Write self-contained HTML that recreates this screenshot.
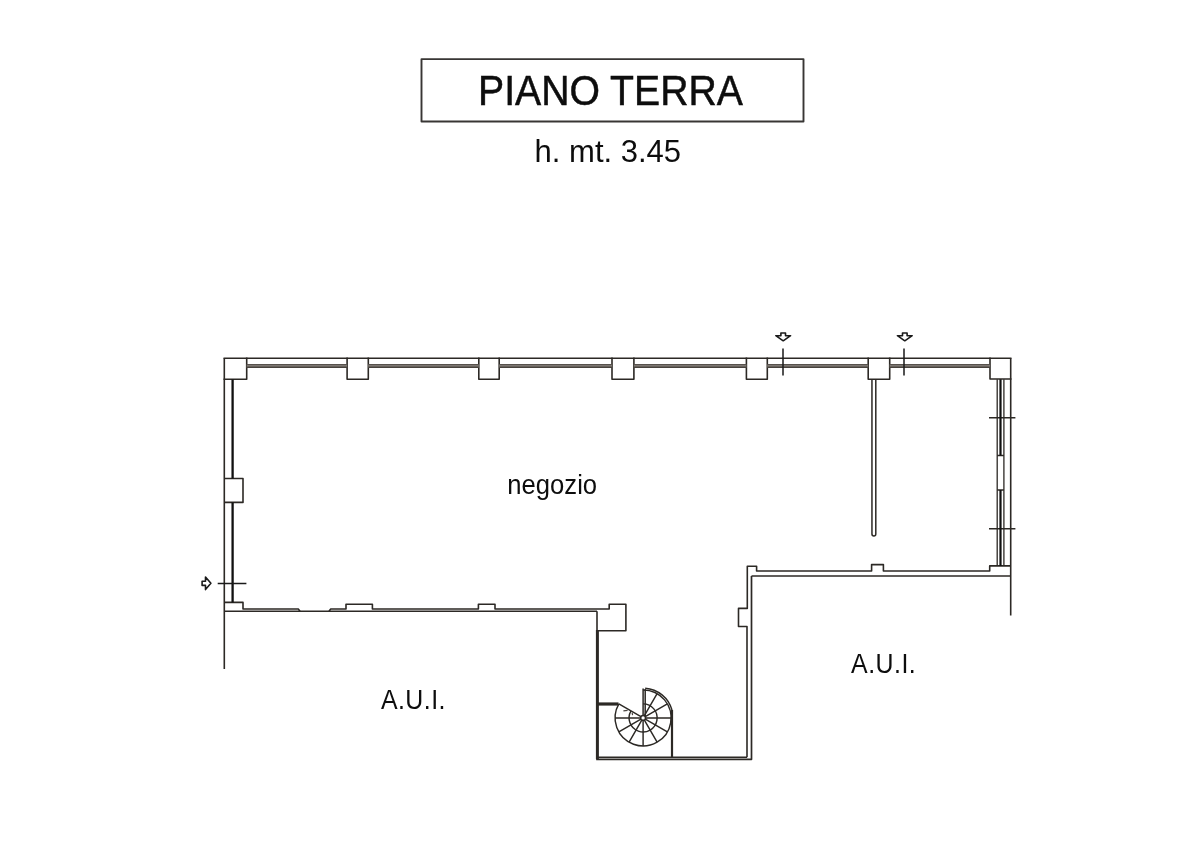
<!DOCTYPE html>
<html><head><meta charset="utf-8"><title>Piano Terra</title>
<style>
html,body{margin:0;padding:0;background:#fff;width:1200px;height:848px;overflow:hidden}
svg{display:block;will-change:transform}
text{font-family:"Liberation Sans",sans-serif;fill:#0d0d0d}
</style></head><body>
<svg width="1200" height="848" viewBox="0 0 1200 848">
<rect x="0" y="0" width="1200" height="848" fill="#fff"/>
<!-- title -->
<rect x="421.5" y="59.1" width="382" height="62.45" fill="none" stroke="#383634" stroke-width="1.9" stroke-linejoin="round"/>
<text transform="translate(478,105.1) scale(0.942,1)" x="0" y="0" font-size="41.6" stroke="#0d0d0d" stroke-width="0.5">PIANO TERRA</text>
<text x="534.6" y="162.4" font-size="31">h. mt. 3.45</text>

<g fill="none" stroke="#2c2925" stroke-width="1.6" stroke-linecap="square" stroke-linejoin="round">
<!-- top wall outer -->
<path d="M224.3 358.2H1010.7"/>
<!-- top pillars -->
<path d="M246.7 358.2V379.2H224.3"/>
<path d="M347.1 358.2V379.2H368.3V358.2"/>
<path d="M478.8 358.2V379.2H499.2V358.2"/>
<path d="M612 358.2V379.2H633.9V358.2"/>
<path d="M746.4 358.2V379.2H767.3V358.2"/>
<path d="M868.2 358.2V379.2H889.7V358.2"/>
<path d="M990.0 358.2V379.0H1010.7"/>
</g>
<!-- top wall glazing double line -->
<g fill="none">
<path d="M246.7 366.2H347.1M368.3 366.2H478.8M499.2 366.2H612M633.9 366.2H746.4M767.3 366.2H868.2M889.7 366.2H990.0" stroke="#8a857f" stroke-width="3.2"/>
<path d="M246.7 364.6H347.1M368.3 364.6H478.8M499.2 364.6H612M633.9 364.6H746.4M767.3 364.6H868.2M889.7 364.6H990.0" stroke="#57524d" stroke-width="1.1"/>
<path d="M246.7 367.2H347.1M368.3 367.2H478.8M499.2 367.2H612M633.9 367.2H746.4M767.3 367.2H868.2M889.7 367.2H990.0" stroke="#47423d" stroke-width="1.5"/>
</g>

<g fill="none" stroke="#2c2925" stroke-width="1.6" stroke-linecap="butt" stroke-linejoin="round">
<!-- left wall outer -->
<path d="M224.3 358.2V669"/>
<!-- left pilaster -->
<path d="M224.5 478.5H243V502.4H224.5"/>
<!-- left bottom corner -->
<path d="M224.3 602.4H243V609H298.3L300 611.2"/>
<path d="M329 611.2L330.7 609H346V604.2H372.4V609H478.4V604.2H495V609H609.2V604.2H625.9V630.7H597"/>
<path d="M224.3 611.2H597"/>
</g>
<!-- left inner black line -->
<path d="M232.6 379.4V478.5M232.6 502.4V602.4" stroke="#111" stroke-width="2.3" fill="none"/>

<!-- stairwell walls -->
<g fill="none" stroke="#2c2925" stroke-linejoin="round">
<path d="M597 611.2V630.7" stroke-width="1.6"/>
<path d="M597.4 630V759.3" stroke-width="3"/>
<path d="M596.2 759.3H751.5V576" stroke-width="1.7"/>
<path d="M598 757.2H747" stroke-width="1.6"/>
<path d="M597 704H618.5" stroke-width="3.2"/>
<path d="M672 710V757.2" stroke-width="2.2"/>
<path d="M747 757.2V626.5H738.5V608.4H747.3V566.3H756.6V571H871.6V564.6H883.4V571H989.7V565.9H1010.7" stroke-width="1.6"/>
<path d="M751.5 576H1010.7" stroke-width="1.6"/>
<!-- right outer wall -->
<path d="M1010.7 358.2V615.4" stroke-width="1.6"/>
<!-- right window -->
<path d="M997.2 379.2V565.9M1003.9 379.2V565.9" stroke-width="1.3"/>
<path d="M997.2 455.4H1003.9M997.2 490.1H1003.9" stroke-width="1.5"/>
<path d="M989 417.8H1015.4M989 528.8H1015.4" stroke-width="1.5"/>
<!-- partition -->
<path d="M871.95 379.2V534A1.925 1.925 0 0 0 875.8 534V379.2" stroke-width="1.5"/>
</g>
<path d="M1000.5 379.2V455.4M1000.5 490.1V565.9" stroke="#111" stroke-width="2.2" fill="none"/>

<!-- ticks and arrows -->
<g fill="none" stroke="#1a1a1a" stroke-width="1.6" stroke-linejoin="round">
<path d="M783 348.6V375.4M904 348.6V375.4M217.7 583.4H246.4" stroke-width="1.5"/>
<path d="M780.9 333H785.5V335.7H790.6L783.2 340.8L775.8 335.7H780.9Z"/>
<path d="M902.5 333H907.1V335.7H912.2L904.8 340.8L897.4 335.7H902.5Z"/>
<path d="M202.1 581.3H205.5V577L210.9 583.3L205.5 589.6V585.4H202.1Z"/>
</g>

<!-- spiral staircase -->
<g fill="none" stroke="#2c2925" stroke-width="1.45">
<path d="M643.1 689.9A28 28 0 1 1 618.85 703.9"/>
<path d="M645.2 688.2A30 30 0 0 1 672 710" stroke-width="1.4"/>
<path d="M643.1 703.9A14 14 0 1 1 631 710.9"/>
<path d="M643.1 717.9L643.1 745.9M643.1 717.9L671.1 717.9M643.1 717.9L615.1 717.9M643.1 717.9L657.1 693.65M643.1 717.9L667.35 703.9M643.1 717.9L667.35 731.9M643.1 717.9L657.1 742.15M643.1 717.9L629.1 742.15M643.1 717.9L618.85 731.9M643.1 717.9L618.85 703.9"/>
<path d="M643.1 717.9V688.5M645.2 717.9V689" stroke-width="1.5"/>
<circle cx="643.1" cy="717.9" r="2.4" fill="#fff"/>
<path d="M623.4 710.9L627.6 710.3M632.1 712.6L632.6 715.2" stroke-width="1.2" stroke="#4a4540"/>
</g>

<!-- labels -->
<text transform="translate(507.3,493.7) scale(0.95,1)" font-size="27">negozio</text>
<text transform="translate(380.9,708.5) scale(0.93,1)" font-size="26.8" letter-spacing="0.5">A.U.I.</text>
<text transform="translate(851.1,673.3) scale(0.93,1)" font-size="26.8" letter-spacing="0.5">A.U.I.</text>
</svg>
</body></html>
